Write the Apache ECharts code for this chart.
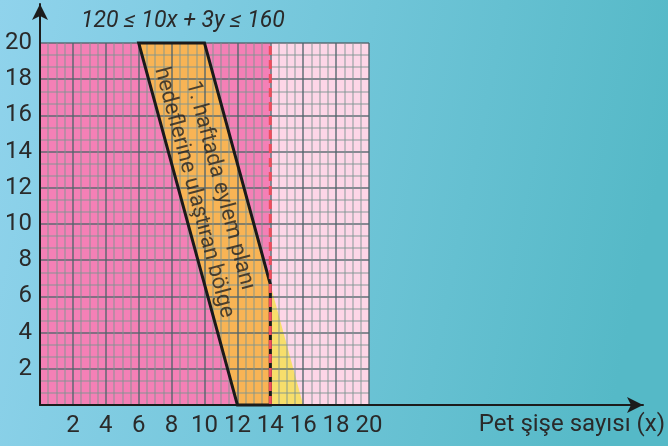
<!DOCTYPE html>
<html>
<head>
<meta charset="utf-8">
<script src="https://cdn.jsdelivr.net/npm/echarts@6/dist/echarts.min.js"></script>
<style>
html,body{margin:0;padding:0;}
#c{width:668px;height:446px;}
</style>
</head>
<body>
<div id="c"></div>
<script>
// ---- data ----
const xTicks = [2, 4, 6, 8, 10, 12, 14, 16, 18, 20];
const yTicks = [2, 4, 6, 8, 10, 12, 14, 16, 18, 20];
const strongZone = [0, 14];      // x-range, full height
const lightZone = [14, 20];
const goalRegion = [[6, 20], [10, 20], [14, 6.67], [14, 0], [12, 0]];
const overflowRegion = [[14, 6.67], [16, 0], [14, 0]];
const limitLine = [[14, 0], [14, 20]];
const labelAnchor = [10.15, 11.93];
const labelLines = ['1. haftada eylem planı', 'hedeflerine ulaştıran bölge'];
const titleText = '120 ≤ 10x + 3y ≤ 160';
const xAxisName = 'Pet şişe sayısı (x)';

const NUM_FONT = 'Roboto, sans-serif';
const chart = echarts.init(document.getElementById('c'));

function polygonSeries(points, style, z) {
  return {
    type: 'custom', xAxisIndex: 0, yAxisIndex: 0, z: z, silent: true,
    data: [0],
    renderItem: function (params, api) {
      return { type: 'polygon', shape: { points: points.map(p => api.coord(p)) }, style: style };
    }
  };
}

const option = {
  animation: false,
  backgroundColor: new echarts.graphic.LinearGradient(0, 0, 1, 0.3, [
    { offset: 0, color: '#90d3ec' }, { offset: 1, color: '#55b9c7' }
  ]),
  title: {
    text: titleText, left: 76, top: 5,
    textStyle: { fontFamily: 'Roboto', fontStyle: 'italic', fontWeight: 'normal', fontSize: 23, color: '#2a2a2a' }
  },
  grid: [
    { left: 40, right: 299, top: 43, bottom: 41 },
    { left: 40, right: 20, top: 4, bottom: 41 }
  ],
  xAxis: [
    {
      type: 'value', gridIndex: 0, min: 0, max: 20, interval: 2, z: 3,
      axisLine: { show: false }, axisTick: { show: false },
      axisLabel: {
        margin: 9, fontSize: 24, fontFamily: NUM_FONT, color: '#2a2a2a',
        formatter: v => xTicks.includes(v) ? String(v) : ''
      },
      splitLine: { show: true, lineStyle: { color: 'rgba(80,100,108,0.9)', width: 1.5 } },
      minorTick: { show: false, splitNumber: 4 },
      minorSplitLine: { show: true, lineStyle: { color: 'rgba(125,150,145,0.6)', width: 1.5 } }
    },
    {
      type: 'value', gridIndex: 1, min: 0, max: 1, z: 8,
      axisLine: { show: true, symbol: ['none', 'arrow'], symbolSize: [12, 16], lineStyle: { color: '#1c1c1c', width: 2 } },
      axisTick: { show: false }, axisLabel: { show: false }, splitLine: { show: false },
      name: xAxisName, nameLocation: 'end', nameGap: 22,
      nameTextStyle: { fontFamily: NUM_FONT, fontSize: 24, color: '#2a2a2a', align: 'right', verticalAlign: 'top', padding: [8, 0, 0, 0] }
    }
  ],
  yAxis: [
    {
      type: 'value', gridIndex: 0, min: 0, max: 20, interval: 2, z: 3,
      axisLine: { show: false }, axisTick: { show: false },
      axisLabel: {
        margin: 8, fontSize: 24, fontFamily: NUM_FONT, color: '#2a2a2a',
        formatter: v => yTicks.includes(v) ? String(v) : ''
      },
      splitLine: { show: true, lineStyle: { color: 'rgba(80,100,108,0.9)', width: 1.5 } },
      minorTick: { show: false, splitNumber: 3 },
      minorSplitLine: { show: true, lineStyle: { color: 'rgba(125,150,145,0.6)', width: 1.5 } }
    },
    {
      type: 'value', gridIndex: 1, min: 0, max: 1, z: 8,
      axisLine: { show: true, symbol: ['none', 'arrow'], symbolSize: [12, 16], lineStyle: { color: '#1c1c1c', width: 2 } },
      axisTick: { show: false }, axisLabel: { show: false }, splitLine: { show: false }
    }
  ],
  series: [
    {
      type: 'custom', xAxisIndex: 0, yAxisIndex: 0, z: 1, silent: true,
      data: [[strongZone[0], strongZone[1], 0], [lightZone[0], lightZone[1], 1]],
      renderItem: function (params, api) {
        const a = api.coord([api.value(0), 0]);
        const b = api.coord([api.value(1), 20]);
        return {
          type: 'rect',
          shape: { x: a[0], y: b[1], width: b[0] - a[0], height: a[1] - b[1] },
          style: { fill: api.value(2) === 0 ? '#f480b6' : '#fdd6e7' }
        };
      }
    },
    polygonSeries(goalRegion, { fill: '#f8b455' }, 2),
    polygonSeries(overflowRegion, { fill: 'rgba(247,222,100,0.95)' }, 2),
    polygonSeries(goalRegion, { fill: 'none', stroke: '#1a1a1a', lineWidth: 3, lineJoin: 'miter' }, 6),
    {
      type: 'line', xAxisIndex: 0, yAxisIndex: 0, z: 7, silent: true,
      data: limitLine, symbol: 'none',
      lineStyle: { color: '#ef4d5c', width: 3, type: [9, 5] }
    },
    {
      type: 'scatter', xAxisIndex: 0, yAxisIndex: 0, z: 9, silent: true,
      symbolSize: 0, data: [labelAnchor],
      label: {
        show: true, position: 'inside', rotate: -75,
        formatter: labelLines.join('\n'),
        fontFamily: 'Roboto', fontSize: 22, lineHeight: 27, color: '#222', align: 'center', verticalAlign: 'middle'
      }
    }
  ]
};
chart.setOption(option);
</script>
</body>
</html>
